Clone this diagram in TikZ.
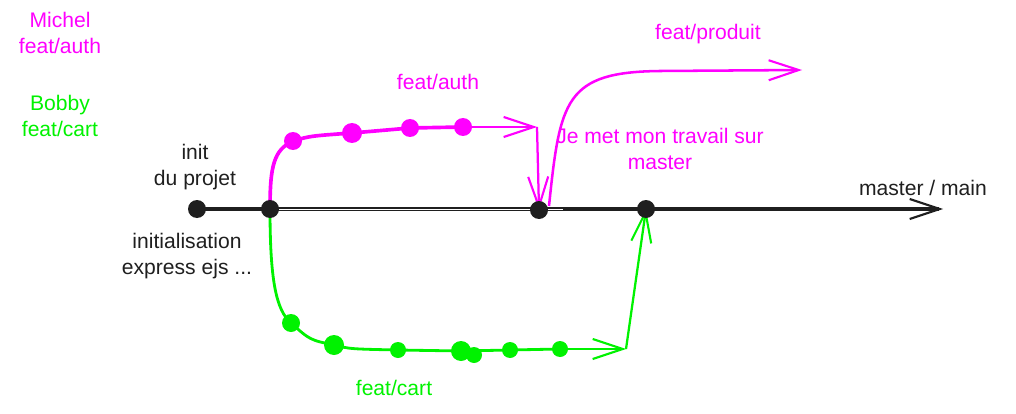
\documentclass[tikz,border=0pt]{standalone}
\usepackage{fontspec}
\setmainfont{Liberation Sans}
\usepackage{tkz-euclide}
\usetikzlibrary{arrows.meta,calc}
\definecolor{MainClr}{rgb}{0.12,0.12,0.12}
\definecolor{AuthClr}{rgb}{1,0,1}
\definecolor{CartClr}{rgb}{0,0.95,0}

\begin{document}
\begin{tikzpicture}[x=0.025cm,y=-0.025cm,
  barb/.style={-{Straight Barb[length=0.75cm,width=0.5cm,line width=1.5pt]}},
  lbl/.style={align=center,inner sep=0pt,font=\fontsize{15}{18}\selectfont}]
\useasboundingbox (0,0) rectangle (1016,413);

% main line
\tkzDefPoints{197/209/I0,270/209/I1,539/210/M1,646/209/M2,943/209/Mend,563/209/Mw}
% feat/auth
\tkzDefPoints{293/141/A1,352/133/A2,410/128/A3,463/127/A4,537/127/Aend}
% feat/produit
\tkzDefPoints{549/206/P0,802/70/Pend}
% feat/cart
\tkzDefPoints{291/323/C1,334/345/C2,398/350/C3,461/351/C4,474/355/C5,510/350/C6,560/349/C7,626/349/Cend}

\draw[MainClr,line width=2.8pt,barb] (I0) -- (Mend);
\draw[white,line width=0.3pt] (I1) -- (Mw);

\draw[AuthClr,line width=2.6pt] (I1) .. controls (270,165) and (274,150) .. (A1)
  .. controls (310,136) .. (A2) -- (A3) -- (A4);
\draw[AuthClr,line width=1.8pt,barb] (A4) -- (Aend);
\draw[AuthClr,line width=1.6pt,barb] (Aend) -- (M1);
\draw[AuthClr,line width=1.8pt,barb] (P0) .. controls (560,100) and (565,72) .. (660,71) -- (Pend);

\draw[CartClr,line width=2pt] (I1) .. controls (270,280) and (276,310) .. (C1)
  .. controls (310,340) .. (C2) .. controls (350,349) .. (C3) -- (C4) -- (C6) -- (C7);
\draw[CartClr,line width=1.8pt,barb] (C7) -- (Cend);
\draw[CartClr,line width=1.6pt,barb] (Cend) -- (M2);

\foreach \p/\r in {A1/9,A2/10,A3/9,A4/9}
  \fill[AuthClr] (\p) circle (\r);
\foreach \p/\r in {C1/9,C2/10,C3/8,C4/10,C5/8,C6/8,C7/8}
  \fill[CartClr] (\p) circle (\r);
\foreach \p in {I0,I1,M1,M2}
  \fill[MainClr] (\p) circle (9);

% labels
\node[lbl,AuthClr] (michel) at (60,33) {Michel\\feat/auth};
\node[lbl,CartClr] (bobby) at (60,116) {Bobby\\feat/cart};
\node[lbl,MainClr] (init) at (195,167) {init\\du projet};
\node[lbl,MainClr] (express) at (187,256) {initialisation\\express ejs ...};
\node[lbl,AuthClr] (authlbl) at (438,82) {feat/auth};
\node[lbl,AuthClr] (produitlbl) at (708,34) {feat/produit};
\node[lbl,AuthClr] (mergelbl) at (660,149) {Je met mon travail sur\\master};
\node[lbl,MainClr] (mainlbl) at (923,188) {master / main};
\node[lbl,CartClr] (cartlbl) at (394,388) {feat/cart};

\end{tikzpicture}
\end{document}
